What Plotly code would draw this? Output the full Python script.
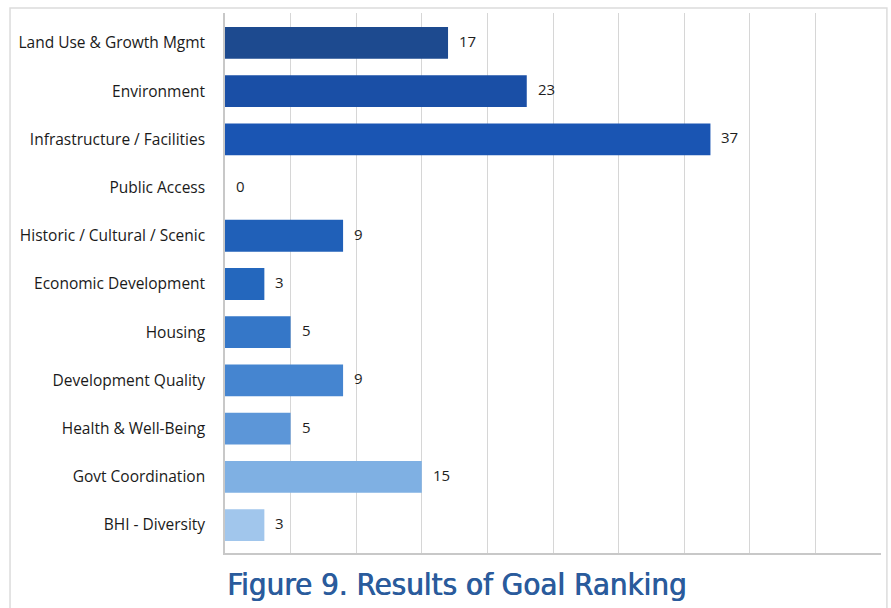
import plotly.graph_objects as go

categories = [
    "Land Use & Growth Mgmt",
    "Environment",
    "Infrastructure / Facilities",
    "Public Access",
    "Historic / Cultural / Scenic",
    "Economic Development",
    "Housing",
    "Development Quality",
    "Health & Well-Being",
    "Govt Coordination",
    "BHI - Diversity",
]
values = [17, 23, 37, 0, 9, 3, 5, 9, 5, 15, 3]
bar_colors = [
    "#1d4a8f", "#1a4fa6", "#1a55b3", "#1d5bb6", "#2060b8", "#2467bd",
    "#3577c8", "#4585d0", "#5c96d8", "#7fb0e3", "#a1c6ec",
]
title_text = "Figure 9. Results of Goal Ranking"

label_font = "Open Sans, Lato, sans-serif"
title_color = "#2a5b9c"

fig = go.Figure()
fig.add_trace(go.Bar(
    x=values,
    y=categories,
    orientation="h",
    marker=dict(color=bar_colors, line=dict(width=0)),
    width=0.66,
    hoverinfo="x+y",
))

# value labels just past the end of each bar
for cat, val in zip(categories, values):
    fig.add_annotation(
        x=val, y=cat, text=str(val), showarrow=False,
        xanchor="left", yanchor="middle", xshift=9, yshift=2,
        font=dict(family=label_font, size=15, color="#1e1e1e"),
    )

# caption below the plot (a slight horizontal shadow gives a medium weight)
fig.add_annotation(
    x=0, y=-0.02, xref="paper", yref="paper", text=title_text,
    showarrow=False, xanchor="left", yanchor="top",
    font=dict(family="DejaVu Sans Condensed, DejaVu Sans, sans-serif",
              size=31, color=title_color,
              shadow=f"0.8px 0 0 {title_color}"),
)

# light frame around the whole figure
fig.add_shape(
    type="rect", xref="paper", yref="paper",
    x0=-0.3277, x1=1.009, y0=-0.12, y1=1.0093,
    line=dict(color="#dcdcdc", width=1.5), layer="below",
)

fig.update_layout(
    width=891, height=608,
    margin=dict(l=225, r=10, t=13, b=55),
    paper_bgcolor="white",
    plot_bgcolor="white",
    showlegend=False,
    bargap=0.34,
    xaxis=dict(
        range=[0, 50], dtick=5, showticklabels=False,
        showgrid=True, gridcolor="#d6d6d6", gridwidth=1,
        zeroline=False, showline=True, linecolor="#c8c8c8", linewidth=1.5,
        layer="above traces", fixedrange=True,
    ),
    yaxis=dict(
        type="category", range=[10.58, -0.62],
        showgrid=False, zeroline=False,
        showline=True, linecolor="#c8c8c8", linewidth=1.5,
        ticks="", ticklabelstandoff=15,
        tickfont=dict(family=label_font, size=15.5, color="#1a1a1a"),
        fixedrange=True,
    ),
)

fig.write_html("out.html")
